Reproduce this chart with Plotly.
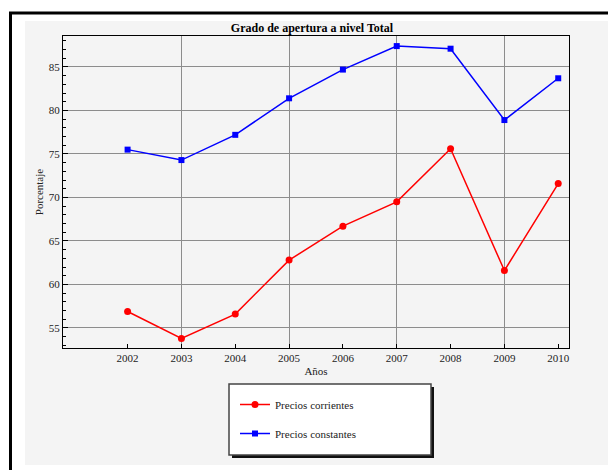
import plotly.graph_objects as go

years = [2002, 2003, 2004, 2005, 2006, 2007, 2008, 2009, 2010]
corrientes = [56.9, 53.8, 56.6, 62.8, 66.7, 69.5, 75.6, 61.6, 71.6]
constantes = [75.5, 74.3, 77.2, 81.4, 84.7, 87.4, 87.1, 78.9, 83.7]
grid_years = [2003, 2005, 2007, 2009]
y_ticks = [55, 60, 65, 70, 75, 80, 85]

# page body has an 8px margin: figure is sized to fit inside the 616x470 window
OFF = 8
W, H = 608, 462
L, R, T, B = 55, 47, 28, 122
PW, PH = W - L - R, H - T - B


def px(x):
    """screen x -> paper x"""
    return (x - OFF - L) / PW


def py(y):
    """screen y -> paper y"""
    return (H - B - (y - OFF)) / PH


FONT = "Liberation Serif, Times New Roman, serif"

fig = go.Figure()
fig.add_trace(go.Scatter(
    x=years, y=corrientes, mode="lines+markers", name="Precios corrientes",
    line=dict(color="#ff0000", width=1.5),
    marker=dict(symbol="circle", size=7, color="#ff0000"),
    legendgroup="a",
))
fig.add_trace(go.Scatter(
    x=years, y=constantes, mode="lines+markers", name="Precios constantes",
    line=dict(color="#0000ff", width=1.5),
    marker=dict(symbol="square", size=6, color="#0000ff"),
    legendgroup="b",
))
# empty helper trace for the odd-year grid axis
fig.add_trace(go.Scatter(x=[], y=[], xaxis="x2", showlegend=False, hoverinfo="skip"))

shapes = [
    dict(type="rect", xref="paper", yref="paper", x0=px(10.5), x1=px(640), y0=py(13), y1=py(490),
         line=dict(color="black", width=3), fillcolor="white", layer="below"),
    dict(type="rect", xref="paper", yref="paper", x0=px(25), x1=px(610), y0=py(21), y1=py(465),
         line=dict(width=0), fillcolor="#f4f4f4", layer="below"),
    dict(type="rect", xref="paper", yref="paper", x0=px(232), x1=px(434), y0=py(387), y1=py(458),
         line=dict(width=0), fillcolor="#111111", layer="below"),
    dict(type="rect", xref="paper", yref="paper", x0=px(229), x1=px(431), y0=py(384), y1=py(455),
         line=dict(color="#444444", width=1.5), fillcolor="white", layer="below"),
]

tickfont = dict(family=FONT, size=11, color="#222222")

fig.update_layout(
    width=W, height=H,
    margin=dict(l=L, r=R, t=T, b=B),
    paper_bgcolor="white",
    plot_bgcolor="#f4f4f4",
    font=dict(family=FONT, size=11, color="#222222"),
    title=dict(text="<b>Grado de apertura a nivel Total</b>", x=px(316), xanchor="center",
               y=1 - (28 - OFF) / H, yanchor="middle", yref="container",
               font=dict(family=FONT, size=12, color="black")),
    xaxis=dict(
        range=[2000.8, 2010.2], tickmode="array", tickvals=years,
        ticktext=[str(v) for v in years], tickfont=tickfont,
        showgrid=False, zeroline=False,
        ticks="inside", ticklen=4, tickcolor="black", tickwidth=1,
        showline=True, linecolor="black", linewidth=1, mirror=True,
        title=dict(text="Años", standoff=4, font=dict(family=FONT, size=11)),
    ),
    xaxis2=dict(
        range=[2000.8, 2010.2], overlaying="x", matches="x", tickmode="array", tickvals=grid_years,
        showticklabels=False, ticks="", showgrid=True, gridcolor="#8c8c8c", gridwidth=1,
        zeroline=False, showline=False,
    ),
    yaxis=dict(
        range=[52.7, 88.56], tickmode="array", tickvals=y_ticks, tickfont=tickfont,
        showgrid=True, gridcolor="#8c8c8c", gridwidth=1, zeroline=False,
        ticks="inside", ticklen=5, tickcolor="black", tickwidth=1,
        minor=dict(dtick=1, tick0=50, ticks="inside", ticklen=3, tickcolor="black", showgrid=False),
        showline=True, linecolor="black", linewidth=1, mirror=True,
        title=dict(text="Porcentaje", standoff=2, font=dict(family=FONT, size=11)),
    ),
    legend=dict(
        x=px(235), y=py(390), xanchor="left", yanchor="top",
        bgcolor="rgba(0,0,0,0)", borderwidth=0,
        font=dict(family=FONT, size=11, color="#222222"),
        tracegroupgap=10, traceorder="grouped",
    ),
    shapes=shapes,
    showlegend=True,
)

fig.write_html("out.html")
